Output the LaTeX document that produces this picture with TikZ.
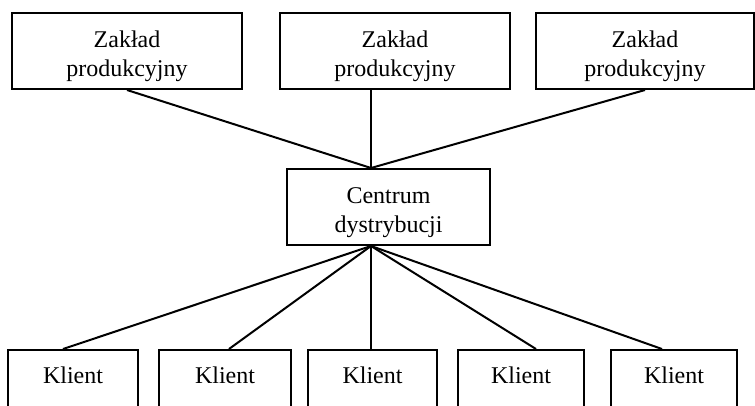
\documentclass[tikz,border=0pt]{standalone}
\usepackage{fontspec}
\setmainfont{Liberation Serif}
\usetikzlibrary{positioning}
\newcommand{\gorny}{\rule{0pt}{26.4pt}}

\begin{document}
\begin{tikzpicture}[
  x=1pt, y=-1pt,
  every node/.style={font=\fontsize{24}{29}\selectfont},
  link/.style={line width=2pt, black},
  zaklad/.style={rectangle, draw, line width=2pt, inner sep=0pt, minimum height=76pt, align=center},
  centrum/.style={rectangle, draw, line width=2pt, inner sep=0pt, minimum width=203pt, minimum height=76pt, align=center},
  klient/.style={rectangle, draw, line width=2pt, anchor=north, inner xsep=0pt, inner ysep=17pt, text height=16pt, text depth=40pt},
]
\useasboundingbox (0,0) rectangle (755,405);
\clip (0,0) rectangle (755,405);

% zaklady
\node[zaklad, minimum width=230pt] (z1) at (127,51) {\gorny Zakład\\produkcyjny};
\node[zaklad, minimum width=230pt] (z2) at (395,51) {\gorny Zakład\\produkcyjny};
\node[zaklad, minimum width=218pt] (z3) at (645,51) {\gorny Zakład\\produkcyjny};

% centrum
\node[centrum] (c) at (388.5,207) {\gorny Centrum\\dystrybucji};

% klienci
\node[klient, minimum width=130pt] (k1) at (73,349) {Klient};
\node[klient, minimum width=132pt] (k2) at (225,349) {Klient};
\node[klient, minimum width=129pt] (k3) at (372.5,349) {Klient};
\node[klient, minimum width=126pt] (k4) at (521,349) {Klient};
\node[klient, minimum width=126pt] (k5) at (674,349) {Klient};

\draw[link] (z1.south) -- ([xshift=-17.5pt]c.north);
\draw[link] ([xshift=-24pt]z2.south) -- ([xshift=-17.5pt]c.north);
\draw[link] (z3.south) -- ([xshift=-17.5pt]c.north);

\draw[link] ([xshift=-17.5pt]c.south) -- ([xshift=-10pt]k1.north);
\draw[link] ([xshift=-17.5pt]c.south) -- ([xshift=4pt]k2.north);
\draw[link] ([xshift=-17.5pt]c.south) -- ([xshift=-1.5pt]k3.north);
\draw[link] ([xshift=-17.5pt]c.south) -- ([xshift=15pt]k4.north);
\draw[link] ([xshift=-17.5pt]c.south) -- ([xshift=-12pt]k5.north);
\end{tikzpicture}
\end{document}
